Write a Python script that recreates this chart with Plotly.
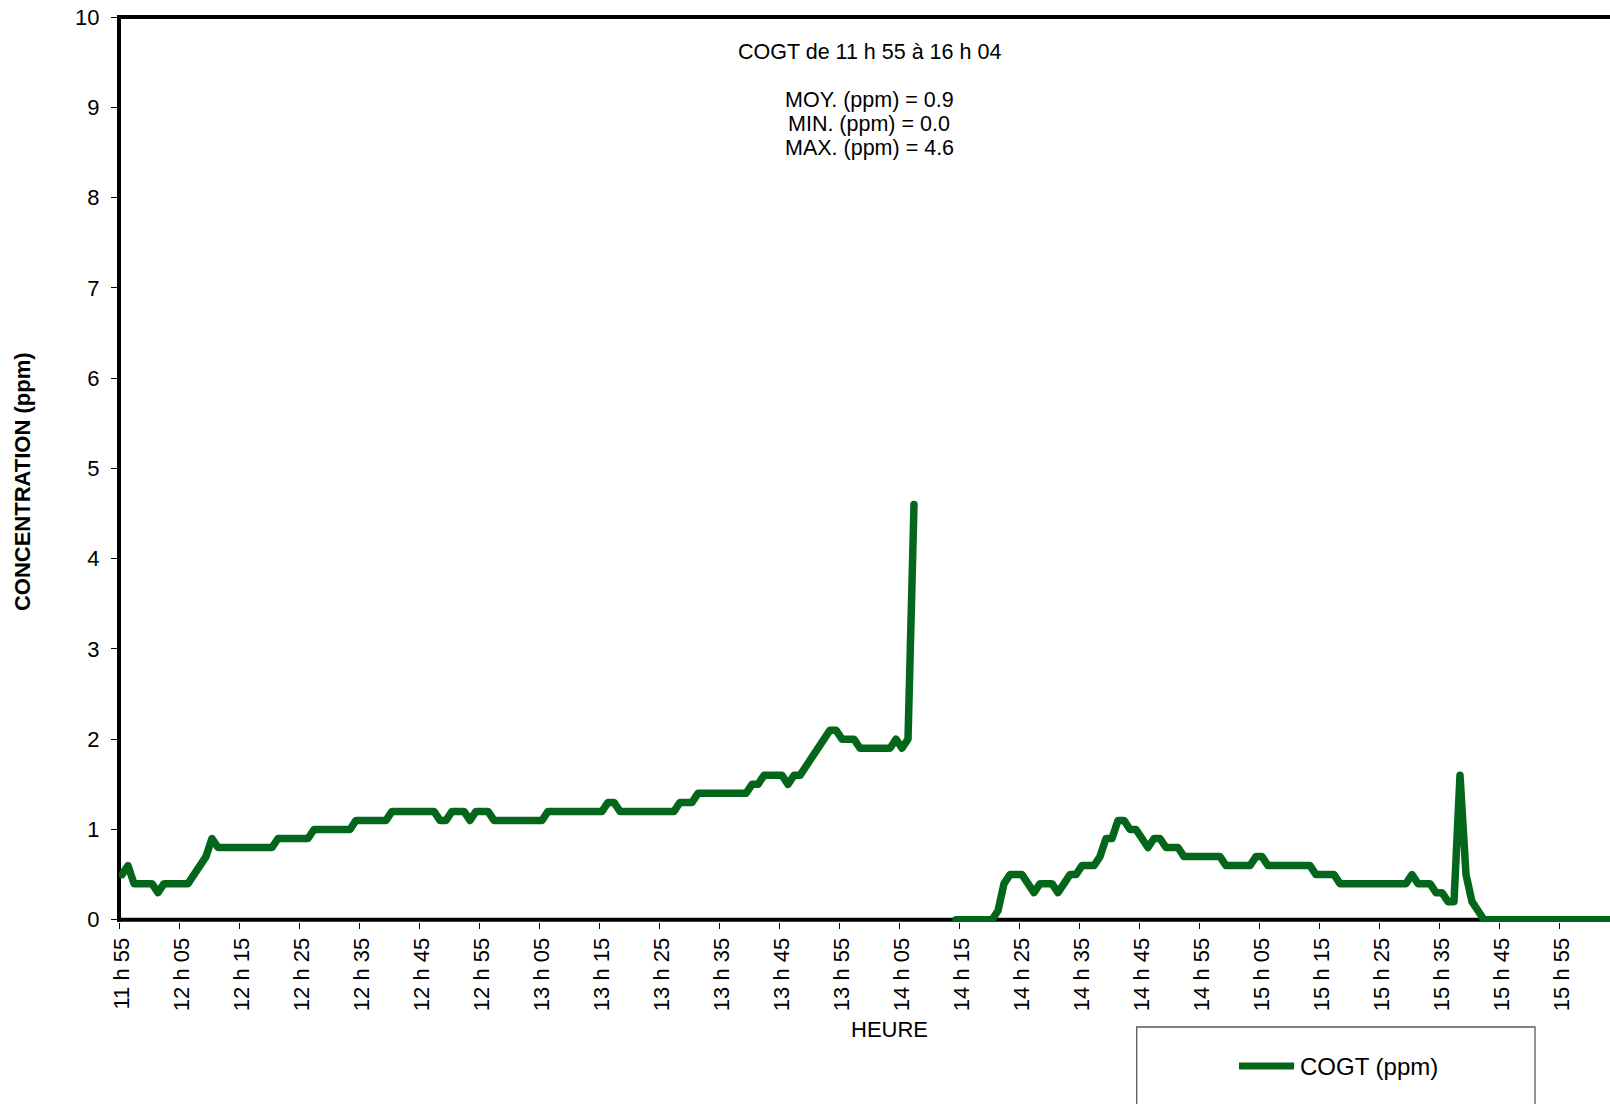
import plotly.graph_objects as go

# ---------------------------------------------------------------------------
# Data: COGT concentration (ppm), one reading per minute from 11 h 55 to 16 h 04
# (None = no reading, the line is broken there)
# ---------------------------------------------------------------------------
START_MIN = 11 * 60 + 55
N_READINGS = 250
times = [f"{(START_MIN + k) // 60} h {(START_MIN + k) % 60:02d}" for k in range(N_READINGS)]

cogt_ppm = [
    0.5, 0.6, 0.4, 0.4, 0.4, 0.4, 0.3, 0.4, 0.4, 0.4,
    0.4, 0.4, 0.5, 0.6, 0.7, 0.9, 0.8, 0.8, 0.8, 0.8,
    0.8, 0.8, 0.8, 0.8, 0.8, 0.8, 0.9, 0.9, 0.9, 0.9,
    0.9, 0.9, 1.0, 1.0, 1.0, 1.0, 1.0, 1.0, 1.0, 1.1,
    1.1, 1.1, 1.1, 1.1, 1.1, 1.2, 1.2, 1.2, 1.2, 1.2,
    1.2, 1.2, 1.2, 1.1, 1.1, 1.2, 1.2, 1.2, 1.1, 1.2,
    1.2, 1.2, 1.1, 1.1, 1.1, 1.1, 1.1, 1.1, 1.1, 1.1,
    1.1, 1.2, 1.2, 1.2, 1.2, 1.2, 1.2, 1.2, 1.2, 1.2,
    1.2, 1.3, 1.3, 1.2, 1.2, 1.2, 1.2, 1.2, 1.2, 1.2,
    1.2, 1.2, 1.2, 1.3, 1.3, 1.3, 1.4, 1.4, 1.4, 1.4,
    1.4, 1.4, 1.4, 1.4, 1.4, 1.5, 1.5, 1.6, 1.6, 1.6,
    1.6, 1.5, 1.6, 1.6, 1.7, 1.8, 1.9, 2.0, 2.1, 2.1,
    2.0, 2.0, 2.0, 1.9, 1.9, 1.9, 1.9, 1.9, 1.9, 2.0,
    1.9, 2.0, 4.6, None, None, None, None, None, None, 0.0,
    0.0, 0.0, 0.0, 0.0, 0.0, 0.0, 0.1, 0.4, 0.5, 0.5,
    0.5, 0.4, 0.3, 0.4, 0.4, 0.4, 0.3, 0.4, 0.5, 0.5,
    0.6, 0.6, 0.6, 0.7, 0.9, 0.9, 1.1, 1.1, 1.0, 1.0,
    0.9, 0.8, 0.9, 0.9, 0.8, 0.8, 0.8, 0.7, 0.7, 0.7,
    0.7, 0.7, 0.7, 0.7, 0.6, 0.6, 0.6, 0.6, 0.6, 0.7,
    0.7, 0.6, 0.6, 0.6, 0.6, 0.6, 0.6, 0.6, 0.6, 0.5,
    0.5, 0.5, 0.5, 0.4, 0.4, 0.4, 0.4, 0.4, 0.4, 0.4,
    0.4, 0.4, 0.4, 0.4, 0.4, 0.5, 0.4, 0.4, 0.4, 0.3,
    0.3, 0.2, 0.2, 1.6, 0.5, 0.2, 0.1, 0.0, 0.0, 0.0,
    0.0, 0.0, 0.0, 0.0, 0.0, 0.0, 0.0, 0.0, 0.0, 0.0,
    0.0, 0.0, 0.0, 0.0, 0.0, 0.0, 0.0, 0.0, 0.0, 0.0,
]

tick_labels = ["11 h 55", "12 h 05", "12 h 15", "12 h 25", "12 h 35", "12 h 45",
               "12 h 55", "13 h 05", "13 h 15", "13 h 25", "13 h 35", "13 h 45",
               "13 h 55", "14 h 05", "14 h 15", "14 h 25", "14 h 35", "14 h 45",
               "14 h 55", "15 h 05", "15 h 15", "15 h 25", "15 h 35", "15 h 45",
               "15 h 55"]
y_ticks = [0, 1, 2, 3, 4, 5, 6, 7, 8, 9, 10]

stats_lines = ["COGT de 11 h 55 à 16 h 04", "MOY. (ppm) = 0.9",
               "MIN. (ppm) = 0.0", "MAX. (ppm) = 4.6"]
series_name = "COGT (ppm)"

# ---------------------------------------------------------------------------
# Geometry helpers
# ---------------------------------------------------------------------------
FIG_W, FIG_H = 1610, 1104
M_L, M_R, M_T, M_B = 119, 0, 17, 182
PLOT_W = FIG_W - M_L - M_R
PLOT_H = FIG_H - M_T - M_B
X_RANGE = [-0.5, -0.5 + PLOT_W / 6.0]     # 6 px per minute, cut at the right edge
Y_RANGE = [-0.025, 10]


def px_x(px):
    return (px - M_L) / PLOT_W


def px_y(py):
    return (FIG_H - M_B - py) / PLOT_H


def y_paper(v):
    return (v - Y_RANGE[0]) / (Y_RANGE[1] - Y_RANGE[0])


GREEN = "#04661a"
FONT = "Liberation Sans, Arial, sans-serif"

x_pos = list(range(len(times)))
tick_pos = [times.index(t) - 0.5 for t in tick_labels]   # ticks sit on category boundaries

fig = go.Figure()
fig.add_trace(go.Scatter(
    x=x_pos, y=cogt_ppm, customdata=times, mode="lines", name=series_name,
    line=dict(color=GREEN, width=7.5), connectgaps=False, showlegend=False,
    hovertemplate="%{customdata}: %{y:.1f} ppm<extra></extra>",
))

# chart frame: left, top and bottom (y = 0) lines
zero_p = y_paper(0)
frame = dict(type="line", xref="paper", yref="paper", layer="below",
             line=dict(color="black", width=4))
shapes = [
    dict(frame, x0=0, x1=0, y0=zero_p - 2 / PLOT_H, y1=1 + 2 / PLOT_H),
    dict(frame, x0=-2 / PLOT_W, x1=1.01, y0=1, y1=1),
    dict(frame, x0=-2 / PLOT_W, x1=1.01, y0=zero_p, y1=zero_p),
    # legend box and its line sample
    dict(type="rect", xref="paper", yref="paper", layer="above",
         x0=px_x(1136.7), x1=px_x(1535), y0=px_y(1027), y1=px_y(1112),
         line=dict(color="#5a5a5a", width=1.3), fillcolor="rgba(0,0,0,0)"),
    dict(type="line", xref="paper", yref="paper", layer="above",
         x0=px_x(1239), x1=px_x(1294), y0=px_y(1066), y1=px_y(1066),
         line=dict(color=GREEN, width=7)),
]

annotations = []
for text, cy in zip(stats_lines, [51.7, 100, 124.5, 148.3]):
    annotations.append(dict(text=text, x=px_x(869), y=px_y(cy), xref="paper", yref="paper",
                            xanchor="center", yanchor="middle", showarrow=False,
                            font=dict(size=21.5, color="black", family=FONT)))
annotations += [
    dict(text="HEURE", x=px_x(890), y=px_y(1029), xref="paper", yref="paper",
         xanchor="center", yanchor="middle", showarrow=False,
         font=dict(size=22, color="black", family=FONT)),
    dict(text="CONCENTRATION (ppm)", x=px_x(22.6), y=px_y(481.5), xref="paper", yref="paper",
         xanchor="center", yanchor="middle", showarrow=False, textangle=-90,
         font=dict(size=22, color="black", family=FONT, weight="bold")),
    dict(text=series_name, x=px_x(1298), y=px_y(1066), xref="paper", yref="paper",
         xanchor="left", yanchor="middle", showarrow=False,
         font=dict(size=24, color="black", family=FONT)),
]

fig.update_layout(
    width=FIG_W, height=FIG_H,
    margin=dict(l=M_L, r=M_R, t=M_T, b=M_B, pad=0),
    paper_bgcolor="white", plot_bgcolor="rgba(0,0,0,0)",
    font=dict(family=FONT, color="black", size=22),
    shapes=shapes, annotations=annotations, showlegend=False,
    xaxis=dict(range=X_RANGE, tickmode="array", tickvals=tick_pos, ticktext=tick_labels,
               tickangle=-90, ticks="outside", ticklen=6, tickwidth=1.2, tickcolor="black",
               ticklabelshift=3, showgrid=False, zeroline=False, showline=False,
               tickfont=dict(size=22, color="black", family=FONT)),
    yaxis=dict(range=Y_RANGE, tickmode="array", tickvals=y_ticks,
               ticks="outside", ticklen=7, tickwidth=1.2, tickcolor="black",
               ticklabelstandoff=7, showgrid=False, zeroline=False, showline=False,
               tickfont=dict(size=22, color="black", family=FONT)),
)

round_lines = ("document.querySelectorAll('.scatterlayer .js-line').forEach(function(p){"
               "p.style.strokeLinejoin='round';p.style.strokeLinecap='round';});")
fig.write_html("out.html", config={"displayModeBar": False}, post_script=round_lines)
